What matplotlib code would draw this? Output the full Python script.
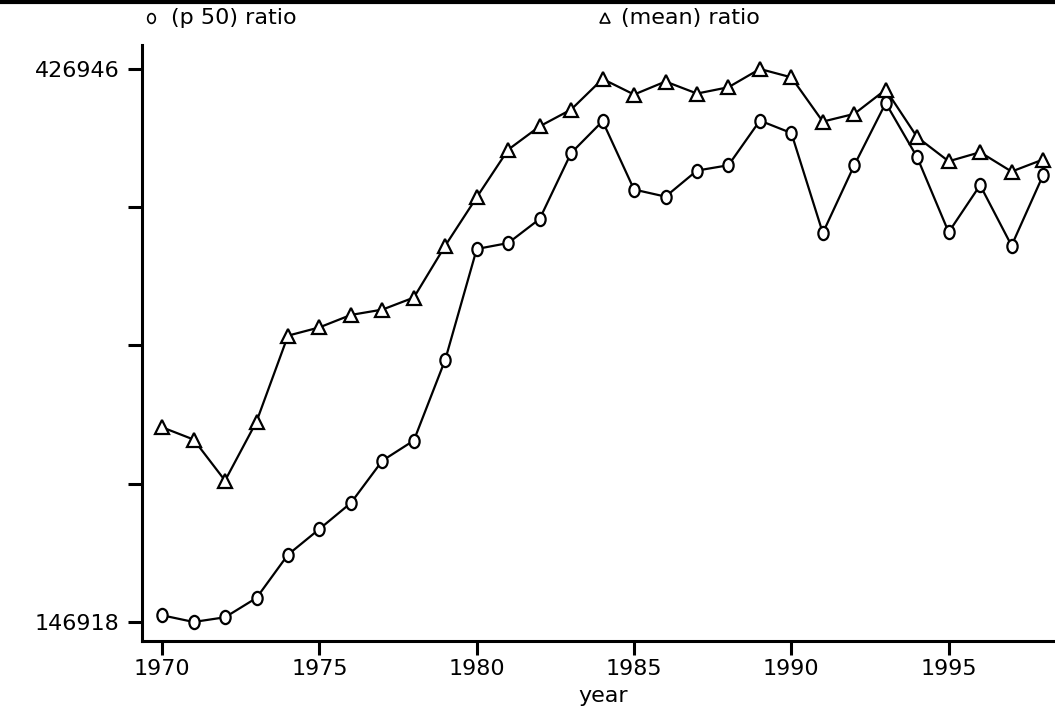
import matplotlib.pyplot as plt
import numpy as np
from matplotlib.lines import Line2D
from matplotlib.path import Path
from matplotlib.transforms import Affine2D

plt.rcParams['font.family'] = ['DejaVu Sans']

years = list(range(1970, 1999))

# median ratio (p 50)
p50_ratio = [150300, 146918, 149300, 159100, 181000, 194000, 207200, 228600,
             238800, 279800, 335800, 338800, 351000, 384400, 400500, 365900,
             362300, 375500, 378200, 400800, 394500, 343900, 378200, 409700,
             382200, 344300, 368100, 337500, 373100]

# mean ratio
mean_ratio = [245500, 239300, 218500, 248400, 291900, 296100, 302400, 305100,
              311200, 337500, 362000, 386100, 397900, 406400, 421900, 414000,
              420600, 414500, 417700, 426946, 422700, 400300, 404200, 416500,
              392400, 380200, 384800, 375000, 381100]

y_min = min(p50_ratio)
y_max = max(mean_ratio)
fs = 16

# slightly tall oval for the median markers
oval = Path.unit_circle().transformed(Affine2D().scale(0.78, 1.0))

fig = plt.figure(figsize=(10.55, 7.06), dpi=100)
ax = fig.add_axes([0.1346, 0.0921, 0.8654, 0.8442])

ax.plot(years, p50_ratio, color='black', lw=1.6, marker=oval, ms=9.5,
        mfc='white', mec='black', mew=1.6, zorder=3)
ax.plot(years, mean_ratio, color='black', lw=1.6, marker='^', ms=9.5,
        mfc='white', mec='black', mew=1.6, zorder=3)

ax.set_xlim(1969.36, 1998.38)
ax.set_ylim(y_min - (y_max - y_min) * 19 / 553, y_max + (y_max - y_min) * 24 / 553)

ax.set_xticks([1970, 1975, 1980, 1985, 1990, 1995])
yt = np.linspace(y_min, y_max, 5)
ax.set_yticks(yt)
ax.set_yticklabels([str(y_min), '', '', '', str(y_max)])

for side in ['top', 'right']:
    ax.spines[side].set_visible(False)
for side in ['left', 'bottom']:
    ax.spines[side].set_linewidth(2.2)

ax.tick_params(axis='both', direction='out', length=10, width=2.2,
               labelsize=fs, colors='black')
ax.tick_params(axis='y', pad=6)
ax.tick_params(axis='x', pad=3)
ax.set_xlabel('year', fontsize=fs)
ax.xaxis.set_label_coords(0.505, -0.093)
ax.xaxis.label.set_va('center')

# legend row across the top
leg_y = 1 - 18 / 706
fig.add_artist(Line2D([151 / 1055], [leg_y], marker=oval, ms=7, mfc='white',
                      mec='black', mew=1.2, ls='none'))
fig.text(171 / 1055, leg_y, '(p 50) ratio', fontsize=fs, va='center', ha='left')
fig.add_artist(Line2D([605 / 1055], [leg_y], marker='^', ms=7, mfc='white',
                      mec='black', mew=1.2, ls='none'))
fig.text(621 / 1055, leg_y, '(mean) ratio', fontsize=fs, va='center', ha='left')

# heavy rule along the top edge
fig.add_artist(Line2D([0, 1], [1 - 1.5 / 706, 1 - 1.5 / 706], color='black', lw=3))

fig.savefig('out.png', dpi=100, facecolor='white')
